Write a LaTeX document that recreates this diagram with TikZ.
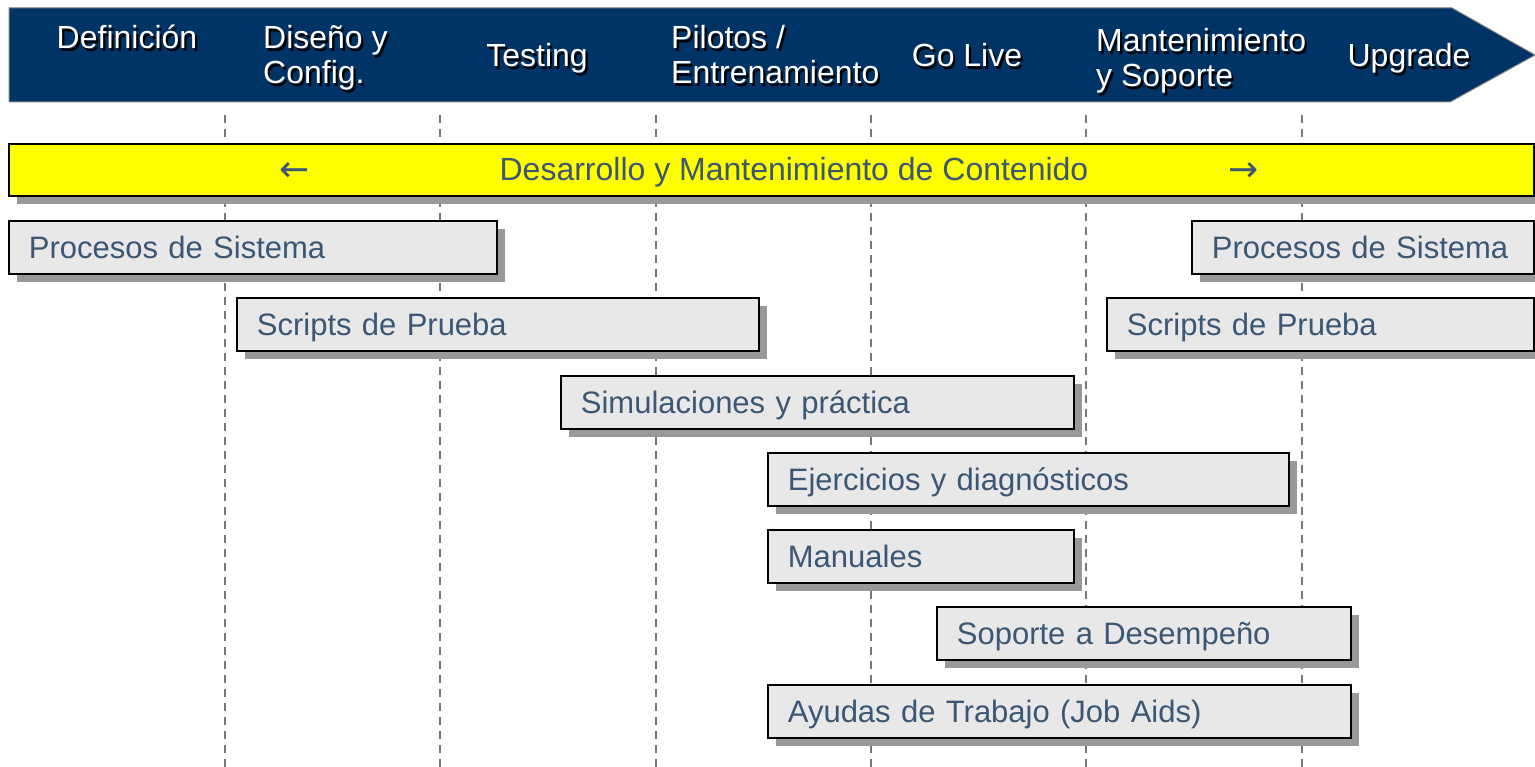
\documentclass[tikz,border=0pt]{standalone}
\usepackage{fontspec}
\setmainfont{Liberation Sans}
\newfontfamily\arrowfont{DejaVu Sans}
\usetikzlibrary{shadows}
\definecolor{navy}{RGB}{0,51,102}
\definecolor{txtblue}{RGB}{59,87,115}
\definecolor{boxfill}{RGB}{232,232,232}
\definecolor{shadowgray}{RGB}{153,153,153}
\definecolor{dashgray}{RGB}{120,120,120}
\definecolor{barfill}{RGB}{255,255,0}
\tikzset{
  bigfont/.style={font=\fontsize{31}{35}\selectfont},
  hdrfont/.style={font=\fontsize{32}{35}\selectfont},
  hdr/.style={hdrfont, text=white, inner sep=0pt, align=left},
  hdrshadow/.style={hdrfont, text=black, inner sep=0pt, align=left},
  phase/.style={draw=dashgray, line width=1.4pt, dash pattern=on 8pt off 6pt},
  bar/.style={rectangle, draw=black, line width=1.8pt, anchor=north west, inner sep=0pt,
    drop shadow={shadow xshift=8pt, shadow yshift=-8pt, fill=shadowgray, opacity=1}},
  task/.style={bar, fill=boxfill, bigfont, text=txtblue, minimum height=53pt,
    inner xsep=20pt, align=left, text height=26pt, text depth=4pt},
}
\begin{document}
\begin{tikzpicture}[x=1pt,y=-1pt]
\useasboundingbox (0,0) rectangle (1535,767);
% banner
\draw[fill=navy, draw=gray, line width=1pt] (9,8) -- (1452,8) -- (1535,55) -- (1450,102) -- (9,102) -- cycle;
% header labels (shadow then white)
\foreach \n/\x/\y/\a/\t in {def/127/49/base/{Definición}, dis/263/84/base west/{Diseño y\\Config.}, tes/537/67/base/{Testing},
   pil/671/84/base west/{Pilotos /\\Entrenamiento}, gol/967/67/base/{Go Live}, man/1096/87/base west/{Mantenimiento\\y Soporte},
   upg/1409/67/base/{Upgrade}}{
  \node[hdrshadow, anchor=\a] (\n-s) at (\x+2.2,\y+2.2) {\t};
  \node[hdr, anchor=\a] (\n) at (\x,\y) {\t};
}
% phase dashed lines
\foreach \i/\x in {1/225,2/440,3/656,4/871,5/1086,6/1302}{
  \coordinate (p\i t) at (\x,115);
  \coordinate (p\i b) at (\x,767);
  \draw[phase] (p\i t) -- (p\i b);
}
% yellow bar
\node[bar, fill=barfill, minimum width=1525pt, minimum height=52pt] (content) at (8,143) {};
\node[font=\fontsize{32}{35}\selectfont, text=txtblue, inner sep=0pt, anchor=base] (contentlabel) at (794,181) {Desarrollo y Mantenimiento de Contenido};
\node[text=txtblue, inner sep=0pt, font=\arrowfont\fontsize{36}{40}\selectfont] (larrow) at (295,172) {←};
\node[text=txtblue, inner sep=0pt, font=\arrowfont\fontsize{36}{40}\selectfont] (rarrow) at (1244,172) {→};
% task boxes
\node[task, text width=448pt] (procA) at (8,220) {Procesos de Sistema};
\node[task, text width=302pt] (procB) at (1191,220) {Procesos de Sistema};
\node[task, text width=482pt] (scrA) at (236,297) {Scripts de Prueba};
\node[task, text width=387pt] (scrB) at (1106,297) {Scripts de Prueba};
\node[task, text width=473pt] (sim) at (560,375) {Simulaciones y práctica};
\node[task, text width=481pt] (eje) at (767,452) {Ejercicios y diagnósticos};
\node[task, text width=266pt] (manu) at (767,529) {Manuales};
\node[task, text width=374pt] (sop) at (936,606) {Soporte a Desempeño};
\node[task, text width=543pt] (ayu) at (767,684) {Ayudas de Trabajo (Job Aids)};
\end{tikzpicture}
\end{document}
